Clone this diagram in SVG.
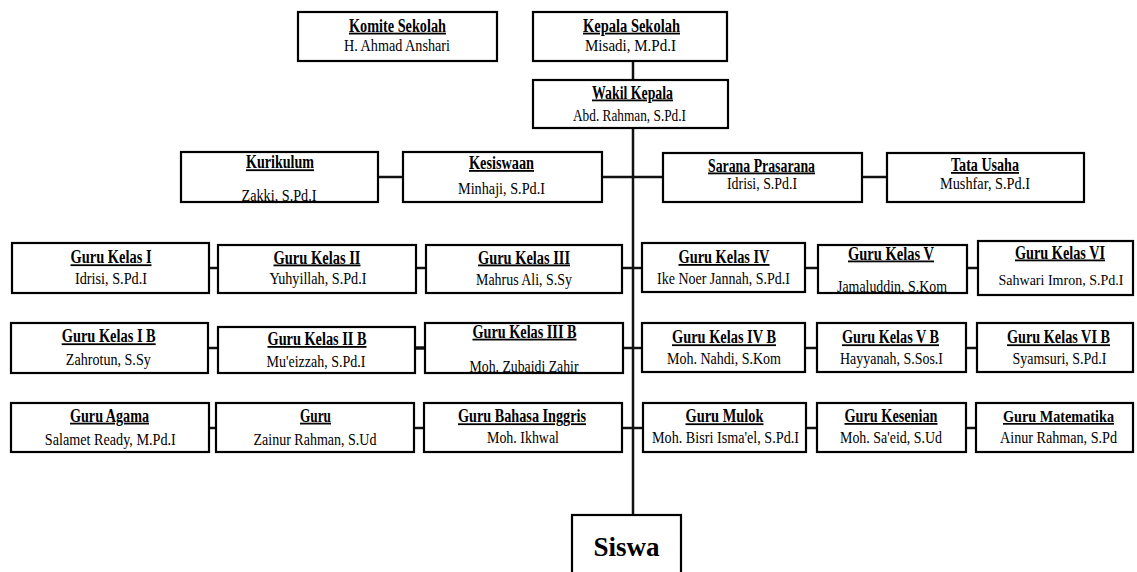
<svg xmlns="http://www.w3.org/2000/svg" width="1137" height="572" viewBox="0 0 1137 572">
<style>
.box{fill:#fff;stroke:#000;stroke-width:2.2}
.t{font-family:"Liberation Serif","Times New Roman",serif;font-weight:bold;font-size:18px;text-anchor:middle;text-decoration:underline;fill:#000}
.n{font-family:"Liberation Serif","Times New Roman",serif;font-size:17px;text-anchor:middle;fill:#000}
.sm{font-size:16px}
.xs{font-size:15px}
.tm{font-size:17px}
.big{font-family:"Liberation Serif","Times New Roman",serif;font-weight:bold;font-size:27px;text-anchor:middle;fill:#000}
.c{stroke:#111;stroke-width:2.5;fill:none}
</style>
<rect width="1137" height="572" fill="#fff"/>
<g id="connectors">
<line class="c" x1="633" y1="61" x2="633" y2="80"/>
<line class="c" x1="633" y1="128" x2="633" y2="515"/>
<line class="c" x1="378" y1="177" x2="403" y2="177"/>
<line class="c" x1="602" y1="177" x2="663" y2="177"/>
<line class="c" x1="862" y1="177" x2="887" y2="177"/>
<line class="c" x1="209" y1="268" x2="218" y2="268"/>
<line class="c" x1="416" y1="268" x2="426" y2="268"/>
<line class="c" x1="622" y1="268" x2="642" y2="268"/>
<line class="c" x1="805" y1="268" x2="818" y2="268"/>
<line class="c" x1="967" y1="268" x2="978" y2="268"/>
<line class="c" x1="208" y1="348" x2="218" y2="348"/>
<line class="c" x1="415" y1="348" x2="425" y2="348" style="stroke-width:3.5"/>
<line class="c" x1="623" y1="348" x2="642" y2="348"/>
<line class="c" x1="805" y1="348" x2="817" y2="348"/>
<line class="c" x1="966" y1="348" x2="977" y2="348"/>
<line class="c" x1="209" y1="428" x2="216" y2="428"/>
<line class="c" x1="414" y1="428" x2="424" y2="428"/>
<line class="c" x1="622" y1="428" x2="643" y2="428"/>
<line class="c" x1="806" y1="428" x2="817" y2="428"/>
<line class="c" x1="966" y1="428" x2="976" y2="428"/>
</g>
<g id="komite"><rect class="box" x="298" y="12" width="199" height="49"/><text class="t" x="397.5" y="31.7" textLength="97" lengthAdjust="spacingAndGlyphs">Komite Sekolah</text><text class="n" x="397" y="50.5" textLength="106" lengthAdjust="spacingAndGlyphs">H. Ahmad Anshari</text></g>
<g id="kepala"><rect class="box" x="533" y="12" width="194" height="49"/><text class="t" x="631.5" y="31.7" textLength="97" lengthAdjust="spacingAndGlyphs">Kepala Sekolah</text><text class="n" x="630.5" y="50.5" textLength="91" lengthAdjust="spacingAndGlyphs">Misadi, M.Pd.I</text></g>
<g id="wakil"><rect class="box" x="533" y="80" width="195" height="48"/><text class="t" x="632.5" y="98.5" textLength="81" lengthAdjust="spacingAndGlyphs">Wakil Kepala</text><text class="n" x="629.5" y="120.5" textLength="113" lengthAdjust="spacingAndGlyphs">Abd. Rahman, S.Pd.I</text></g>
<g id="kurikulum"><rect class="box" x="181" y="152" width="197" height="50"/><text class="t" x="280" y="168.3" textLength="68" lengthAdjust="spacingAndGlyphs">Kurikulum</text><text class="n" x="279" y="200.5" textLength="75" lengthAdjust="spacingAndGlyphs">Zakki, S.Pd.I</text></g>
<g id="kesiswaan"><rect class="box" x="403" y="152" width="199" height="50"/><text class="t" x="501.5" y="169" textLength="65" lengthAdjust="spacingAndGlyphs">Kesiswaan</text><text class="n" x="501.5" y="194" textLength="87" lengthAdjust="spacingAndGlyphs">Minhaji, S.Pd.I</text></g>
<g id="sarana"><rect class="box" x="663" y="153" width="199" height="49"/><text class="t" x="761.5" y="171.5" textLength="107" lengthAdjust="spacingAndGlyphs">Sarana Prasarana</text><text class="n" x="762" y="189" textLength="70" lengthAdjust="spacingAndGlyphs">Idrisi, S.Pd.I</text></g>
<g id="tatausaha"><rect class="box" x="887" y="153" width="197" height="49"/><text class="t" x="985" y="171" textLength="68" lengthAdjust="spacingAndGlyphs">Tata Usaha</text><text class="n" x="985" y="189" textLength="90" lengthAdjust="spacingAndGlyphs">Mushfar, S.Pd.I</text></g>
<g id="gk1"><rect class="box" x="12" y="243" width="197" height="50"/><text class="t" x="111" y="263.3" textLength="81" lengthAdjust="spacingAndGlyphs">Guru Kelas I</text><text class="n" x="111" y="284" textLength="72" lengthAdjust="spacingAndGlyphs">Idrisi, S.Pd.I</text></g>
<g id="gk2"><rect class="box" x="218" y="245" width="198" height="48"/><text class="t" x="317" y="263.5" textLength="87" lengthAdjust="spacingAndGlyphs">Guru Kelas II</text><text class="n" x="318" y="284" textLength="97" lengthAdjust="spacingAndGlyphs">Yuhyillah, S.Pd.I</text></g>
<g id="gk3"><rect class="box" x="426" y="245" width="196" height="48"/><text class="t" x="524" y="263.5" textLength="92" lengthAdjust="spacingAndGlyphs">Guru Kelas III</text><text class="n" x="524" y="285" textLength="96" lengthAdjust="spacingAndGlyphs">Mahrus Ali, S.Sy</text></g>
<g id="gk4"><rect class="box" x="642" y="243" width="163" height="49"/><text class="t" x="724" y="263" textLength="91" lengthAdjust="spacingAndGlyphs">Guru Kelas IV</text><text class="n" x="723.5" y="284" textLength="133" lengthAdjust="spacingAndGlyphs">Ike Noer Jannah, S.Pd.I</text></g>
<g id="gk5"><rect class="box" x="818" y="245" width="149" height="48"/><text class="t" x="891" y="259.5" textLength="86" lengthAdjust="spacingAndGlyphs">Guru Kelas V</text><text class="n" x="892" y="291.5" textLength="110" lengthAdjust="spacingAndGlyphs">Jamaluddin, S.Kom</text></g>
<g id="gk6"><rect class="box" x="978" y="241" width="155" height="54"/><text class="t" x="1060" y="258.5" textLength="90" lengthAdjust="spacingAndGlyphs">Guru Kelas VI</text><text class="n xs" x="1061" y="285" textLength="125" lengthAdjust="spacingAndGlyphs">Sahwari Imron, S.Pd.I</text></g>
<g id="gk1b"><rect class="box" x="11" y="323" width="197" height="50"/><text class="t" x="108.7" y="342.3" textLength="94" lengthAdjust="spacingAndGlyphs">Guru Kelas I B</text><text class="n" x="108.3" y="365" textLength="85" lengthAdjust="spacingAndGlyphs">Zahrotun, S.Sy</text></g>
<g id="gk2b"><rect class="box" x="218" y="327" width="197" height="46"/><text class="t" x="317" y="345" textLength="99" lengthAdjust="spacingAndGlyphs">Guru Kelas II B</text><text class="n" x="316" y="366.7" textLength="99" lengthAdjust="spacingAndGlyphs">Mu'eizzah, S.Pd.I</text></g>
<g id="gk3b"><rect class="box" x="425" y="323" width="198" height="50"/><text class="t" x="524.5" y="337.7" textLength="104" lengthAdjust="spacingAndGlyphs">Guru Kelas III B</text><text class="n" x="524" y="371.5" textLength="109" lengthAdjust="spacingAndGlyphs">Moh. Zubaidi Zahir</text></g>
<g id="gk4b"><rect class="box" x="642" y="323" width="163" height="49"/><text class="t" x="724" y="343.3" textLength="104" lengthAdjust="spacingAndGlyphs">Guru Kelas IV B</text><text class="n" x="724" y="363.5" textLength="114" lengthAdjust="spacingAndGlyphs">Moh. Nahdi, S.Kom</text></g>
<g id="gk5b"><rect class="box" x="817" y="323" width="149" height="49"/><text class="t" x="890.5" y="343.3" textLength="97" lengthAdjust="spacingAndGlyphs">Guru Kelas V B</text><text class="n" x="891.5" y="364.3" textLength="103" lengthAdjust="spacingAndGlyphs">Hayyanah, S.Sos.I</text></g>
<g id="gk6b"><rect class="box" x="977" y="323" width="156" height="49"/><text class="t" x="1058.5" y="343.3" textLength="103" lengthAdjust="spacingAndGlyphs">Guru Kelas VI B</text><text class="n" x="1059.5" y="364.3" textLength="94" lengthAdjust="spacingAndGlyphs">Syamsuri, S.Pd.I</text></g>
<g id="agama"><rect class="box" x="11" y="403" width="198" height="49"/><text class="t" x="109.5" y="421.7" textLength="79" lengthAdjust="spacingAndGlyphs">Guru Agama</text><text class="n" x="110.3" y="445" textLength="131" lengthAdjust="spacingAndGlyphs">Salamet Ready, M.Pd.I</text></g>
<g id="guru"><rect class="box" x="216" y="403" width="198" height="49"/><text class="t" x="315.5" y="421.7" textLength="31" lengthAdjust="spacingAndGlyphs">Guru</text><text class="n" x="315" y="445" textLength="123" lengthAdjust="spacingAndGlyphs">Zainur Rahman, S.Ud</text></g>
<g id="inggris"><rect class="box" x="424" y="403" width="198" height="49"/><text class="t" x="522" y="422.3" textLength="128" lengthAdjust="spacingAndGlyphs">Guru Bahasa Inggris</text><text class="n" x="523" y="443.3" textLength="72" lengthAdjust="spacingAndGlyphs">Moh. Ikhwal</text></g>
<g id="mulok"><rect class="box" x="643" y="403" width="163" height="49"/><text class="t" x="724.5" y="422.3" textLength="78" lengthAdjust="spacingAndGlyphs">Guru Mulok</text><text class="n" x="725.5" y="443.3" textLength="147" lengthAdjust="spacingAndGlyphs">Moh. Bisri Isma'el, S.Pd.I</text></g>
<g id="kesenian"><rect class="box" x="817" y="403" width="149" height="49"/><text class="t" x="891" y="422" textLength="93" lengthAdjust="spacingAndGlyphs">Guru Kesenian</text><text class="n" x="891" y="443" textLength="102" lengthAdjust="spacingAndGlyphs">Moh. Sa'eid, S.Ud</text></g>
<g id="matematika"><rect class="box" x="976" y="403" width="157" height="49"/><text class="t tm" x="1058.5" y="422" textLength="111" lengthAdjust="spacingAndGlyphs">Guru Matematika</text><text class="n sm" x="1058.5" y="443" textLength="117" lengthAdjust="spacingAndGlyphs">Ainur Rahman, S.Pd</text></g>
<g id="siswa"><rect class="box" x="572" y="515" width="109" height="70"/><text class="big" x="626.5" y="556">Siswa</text></g>
</svg>
